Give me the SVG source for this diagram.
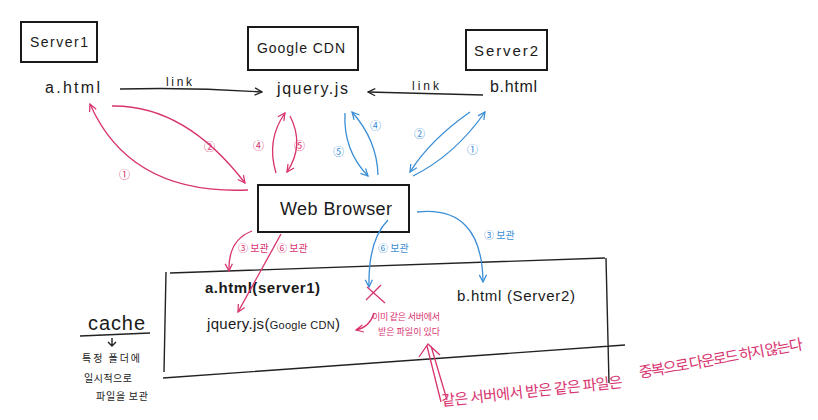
<svg xmlns="http://www.w3.org/2000/svg" width="818" height="420" viewBox="0 0 818 420">
<defs>
<marker id="aK" viewBox="0 0 10 10" refX="9" refY="5" markerWidth="9" markerHeight="9" markerUnits="userSpaceOnUse" orient="auto"><path d="M1,1 L9,5 L1,9" fill="none" stroke="#222" stroke-width="1.4"/></marker>
<marker id="aR" viewBox="0 0 10 10" refX="9" refY="5" markerWidth="9" markerHeight="9" markerUnits="userSpaceOnUse" orient="auto"><path d="M1,1 L9,5 L1,9" fill="none" stroke="#d8336f" stroke-width="1.4"/></marker>
<marker id="aB" viewBox="0 0 10 10" refX="9" refY="5" markerWidth="9" markerHeight="9" markerUnits="userSpaceOnUse" orient="auto"><path d="M1,1 L9,5 L1,9" fill="none" stroke="#3b8ed6" stroke-width="1.4"/></marker>
</defs>
<style>
text{font-family:"Liberation Sans","Noto Sans CJK KR",sans-serif;fill:#1a1a1a}
.box{fill:none;stroke:#1a1a1a;stroke-width:2}
.k{fill:none;stroke:#222;stroke-width:1.4}
.r{fill:none;stroke:#d8336f;stroke-width:1.3}
.b{fill:none;stroke:#3b8ed6;stroke-width:1.3}
.rt{fill:#d8336f;font-family:"Noto Sans CJK KR",sans-serif}
.bt{fill:#3b8ed6;font-family:"Noto Sans CJK KR",sans-serif}
.kr{font-family:"Noto Sans CJK KR",sans-serif}
.lbl{font-size:16px}
</style>
<rect width="818" height="420" fill="#ffffff"/>

<g id="server1">
<rect class="box" x="21" y="22" width="76" height="40"/>
<text x="30" y="47" font-size="14" textLength="58">Server1</text>
</g>
<g id="google-cdn">
<rect class="box" x="248" y="27" width="110" height="43"/>
<text x="257" y="53" font-size="14" textLength="88">Google CDN</text>
</g>
<g id="server2">
<rect class="box" x="466" y="30" width="81" height="40"/>
<text x="474" y="56" font-size="15" textLength="64">Server2</text>
</g>
<g id="a-html"><text class="lbl" x="45" y="93" textLength="55">a.html</text></g>
<g id="jquery-js"><text class="lbl" x="277" y="94" textLength="71">jquery.js</text></g>
<g id="b-html"><text class="lbl" x="490" y="92" textLength="47">b.html</text></g>
<g id="web-browser">
<rect class="box" x="258" y="185" width="151" height="47"/>
<text x="280" y="215" font-size="18" textLength="112">Web Browser</text>
</g>

<g id="cache-box">
<path class="k" d="M170,273 L605,258 M166,272 L164,372 M163,378 L625,345 M606,258 L609,383" stroke-width="1.6"/>
<text x="205" y="293" font-size="15" font-weight="bold" textLength="115">a.html(server1)</text>
<text x="207" y="329" font-size="15" textLength="133">jquery.js(<tspan font-size="11">Google CDN</tspan>)</text>
<text x="457" y="301" font-size="15" textLength="118">b.html (Server2)</text>
</g>

<g id="cache-label">
<text x="88" y="330" font-size="20" textLength="57">cache</text>
<path class="k" d="M80,336 L150,333 M112,338 L112,346 M108,342 L112,346 L116,342"/>
<text class="kr" x="82" y="362" font-size="10" textLength="58">특정 폴더에</text>
<text class="kr" x="84" y="382" font-size="10" textLength="48">일시적으로</text>
<text class="kr" x="96" y="400" font-size="10" textLength="52">파일을 보관</text>
</g>

<g id="connectors">
<path class="k" d="M120,89 Q190,87 262,92" marker-end="url(#aK)"/>
<text x="166" y="86" font-size="12" textLength="26">link</text>
<path class="k" d="M483,95 L368,92" marker-end="url(#aK)"/>
<text x="412" y="90" font-size="12" textLength="27">link</text>

<path class="r" d="M248,190 Q130,195 90,104" marker-end="url(#aR)"/>
<text class="rt" x="119" y="179" font-size="11">①</text>
<path class="r" d="M112,106 Q185,105 245,183" marker-end="url(#aR)"/>
<text class="rt" x="204" y="151" font-size="11">②</text>

<path class="r" d="M276,173 Q266,140 285,113" marker-end="url(#aR)"/>
<text class="rt" x="253" y="150" font-size="11">④</text>
<path class="r" d="M290,116 Q305,145 287,172" marker-end="url(#aR)"/>
<text class="rt" x="294" y="150" font-size="11">⑤</text>

<path class="b" d="M345,113 Q343,150 368,176" marker-end="url(#aB)"/>
<text class="bt" x="333" y="156" font-size="11">⑤</text>
<path class="b" d="M378,175 Q377,140 352,112" marker-end="url(#aB)"/>
<text class="bt" x="370" y="130" font-size="11">④</text>

<path class="b" d="M413,176 Q455,155 485,112" marker-end="url(#aB)"/>
<text class="bt" x="467" y="154" font-size="11">①</text>
<path class="b" d="M470,112 Q430,140 410,172" marker-end="url(#aB)"/>
<text class="bt" x="414" y="138" font-size="11">②</text>

<path class="r" d="M252,231 Q228,240 229,271" marker-end="url(#aR)"/>
<text class="rt" x="238" y="252" font-size="10">③ 보관</text>
<path class="r" d="M281,234 L238,312" marker-end="url(#aR)"/>
<text class="rt" x="277" y="252" font-size="10">⑥ 보관</text>

<path class="b" d="M388,220 Q368,240 369,287" marker-end="url(#aB)"/>
<text class="bt" x="378" y="252" font-size="10">⑥ 보관</text>
<path class="b" d="M417,212 Q482,205 483,282" marker-end="url(#aB)"/>
<text class="bt" x="484" y="239" font-size="10">③ 보관</text>

<path class="r" d="M367,287 L385,303 M381,285 L366,300" stroke-width="1.6"/>
<path class="r" d="M374,313 Q370,327 356,330" marker-end="url(#aR)"/>
<text class="rt" x="372" y="320" font-size="9" textLength="68">이미 같은 서버에서</text>
<text class="rt" x="378" y="335" font-size="9" textLength="62">받은 파일이 있다</text>

<path class="r" d="M441,402 L427,346 M447,400 L431,346 M419,357 L428,344 L440,355" stroke-width="1.5"/>
<text class="rt" transform="translate(442,406) rotate(-6)" font-size="15" textLength="182">같은 서버에서 받은 같은 파일은</text>
<text class="rt" transform="translate(640,378) rotate(-10)" font-size="15" textLength="166">중복으로 다운로드 하지 않는다</text>
</g>
</svg>
